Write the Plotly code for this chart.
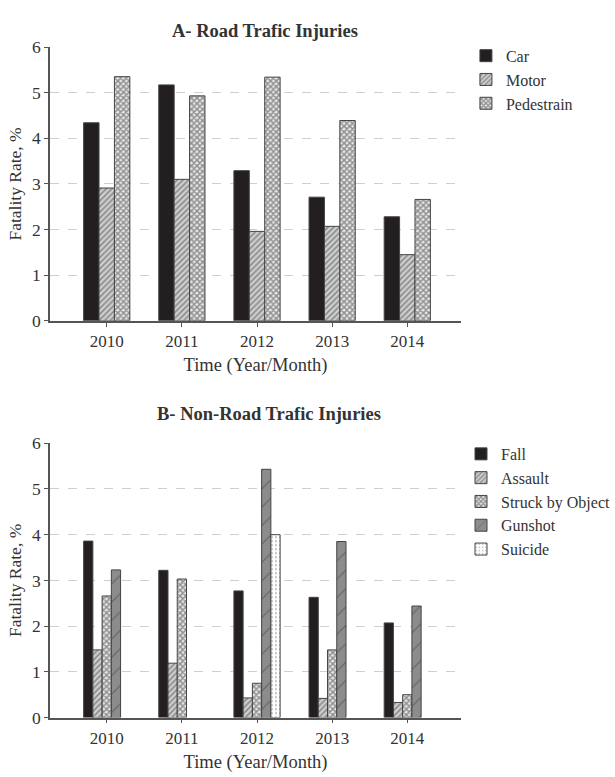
import plotly.graph_objects as go

years = ["2010", "2011", "2012", "2013", "2014"]

# Panel A - Road traffic injuries (fatality rate, %)
car = [4.34, 5.17, 3.29, 2.71, 2.28]
motor = [2.91, 3.10, 1.96, 2.07, 1.45]
pedestrain = [5.35, 4.93, 5.34, 4.39, 2.66]

# Panel B - Non-road traffic injuries (fatality rate, %)
fall = [3.86, 3.22, 2.77, 2.63, 2.07]
assault = [1.48, 1.19, 0.43, 0.42, 0.33]
struck = [2.66, 3.03, 0.75, 1.48, 0.50]
gunshot = [3.23, None, 5.43, 3.85, 2.44]
suicide = [None, None, 4.00, None, None]

yticks = [0, 1, 2, 3, 4, 5, 6]
grid_vals = [1, 2, 3, 4, 5]

FONT = "Liberation Serif"
LINE = dict(color="#444", width=1)

styles = {
    "solid": dict(color="#231f20", line=LINE),
    "hatch": dict(color="#b5b5b5", line=LINE,
                  pattern=dict(shape="/", size=4, solidity=0.4, fgcolor="#444", bgcolor="#cfcfcf")),
    "check": dict(color="#b0b0b0", line=LINE,
                  pattern=dict(shape="x", size=4, solidity=0.6, fgcolor="#333", bgcolor="#e6e6e6")),
    "gun": dict(color="#8c8c8c", line=LINE,
                pattern=dict(shape="/", size=13, solidity=0.08, fgcolor="#333", bgcolor="#8c8c8c")),
    "dots": dict(color="#ffffff", line=LINE,
                 pattern=dict(shape=".", size=4, solidity=0.25, fgcolor="#888", bgcolor="#ffffff")),
}

fig = go.Figure()

for name, vals, st in [("Car", car, "solid"), ("Motor", motor, "hatch"), ("Pedestrain", pedestrain, "check")]:
    fig.add_trace(go.Bar(x=years, y=vals, name=name, marker=styles[st],
                         xaxis="x", yaxis="y", legend="legend"))

for name, vals, st in [("Fall", fall, "solid"), ("Assault", assault, "hatch"),
                       ("Struck by Object", struck, "check"), ("Gunshot", gunshot, "gun"),
                       ("Suicide", suicide, "dots")]:
    fig.add_trace(go.Bar(x=years, y=vals, name=name, marker=styles[st],
                         xaxis="x2", yaxis="y2", legend="legend2"))

xcommon = dict(type="category", range=[-0.755, 4.715], showline=True, linecolor="#555", linewidth=1.5,
               ticks="outside", ticklen=4, tickcolor="#555", showgrid=False, zeroline=False,
               tickfont=dict(family=FONT, size=17, color="#333"),
               title=dict(text="Time (Year/Month)", standoff=8,
                          font=dict(family=FONT, size=18.5, color="#333")))
ycommon = dict(range=[0, 6], tickvals=yticks, showline=True, linecolor="#555", linewidth=1.5,
               ticks="outside", ticklen=4, tickcolor="#555", showgrid=False, zeroline=False,
               tickfont=dict(family=FONT, size=17.5, color="#333"),
               minor=dict(tickvals=grid_vals, showgrid=True, gridcolor="#cfcfcf", griddash="dash",
                          gridwidth=1.2, ticks=""),
               title=dict(text="Fatality Rate, %", standoff=6,
                          font=dict(family=FONT, size=17.5, color="#333")))

fig.update_layout(
    width=615, height=777,
    margin=dict(l=50, r=152, t=0, b=0),
    paper_bgcolor="white", plot_bgcolor="white",
    barmode="group", bargap=0.385, bargroupgap=0,
    font=dict(family=FONT, color="#333"),
    xaxis=dict(xcommon, domain=[0, 1], anchor="y"),
    yaxis=dict(ycommon, domain=[0.5894, 0.9511], anchor="x"),
    xaxis2=dict(xcommon, domain=[0, 1], anchor="y2"),
    yaxis2=dict(ycommon, domain=[0.0653, 0.4277], anchor="x2"),
    legend=dict(x=1.012, y=0.962, xanchor="left", yanchor="top", bgcolor="rgba(0,0,0,0)",
                font=dict(family=FONT, size=16, color="#333"), tracegroupgap=0),
    legend2=dict(x=1.0, y=0.436, xanchor="left", yanchor="top", bgcolor="rgba(0,0,0,0)",
                 font=dict(family=FONT, size=16, color="#333"), tracegroupgap=0),
    annotations=[
        dict(text="<b>A- Road Trafic Injuries</b>", x=0.523, y=0.9717, xref="paper", yref="paper",
             xanchor="center", yanchor="middle", showarrow=False,
             font=dict(family=FONT, size=18.5, color="#333")),
        dict(text="<b>B- Non-Road Trafic Injuries</b>", x=0.533, y=0.4659, xref="paper", yref="paper",
             xanchor="center", yanchor="middle", showarrow=False,
             font=dict(family=FONT, size=18.5, color="#333")),
    ],
    showlegend=True,
)

fig.write_html("out.html")
